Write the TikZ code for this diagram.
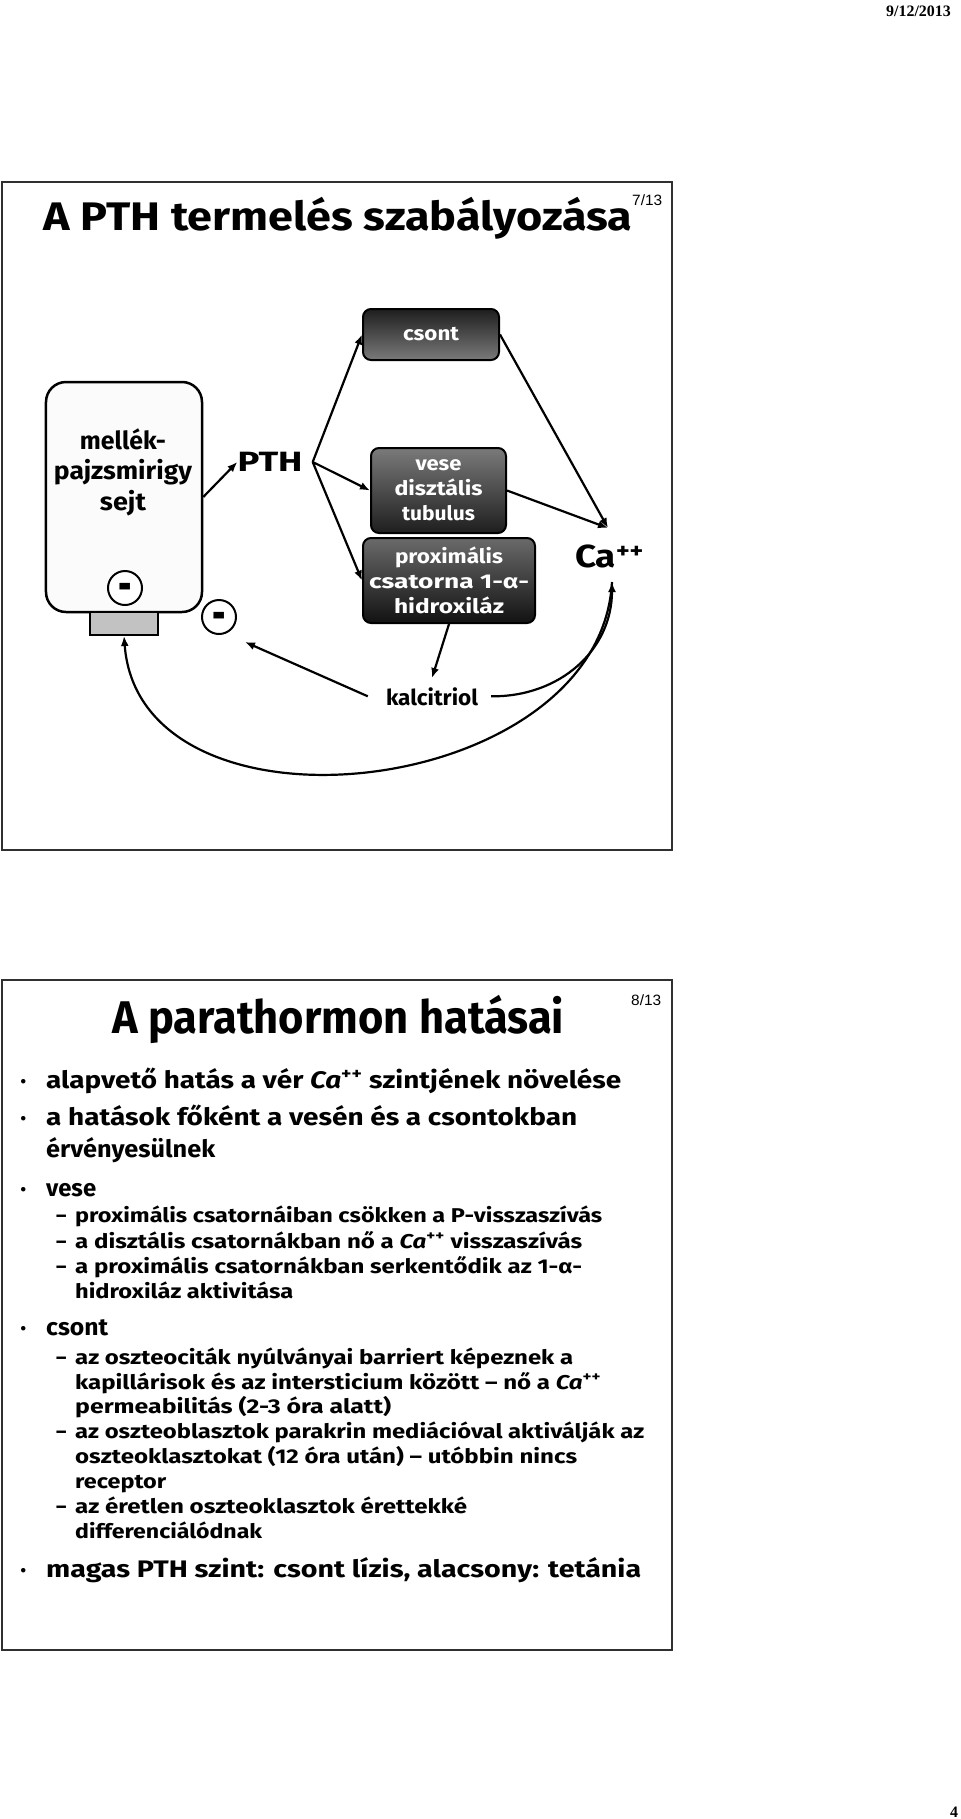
\documentclass[tikz,border=0pt]{standalone}
\usepackage{fontspec}
\setmainfont{Fira Sans}
\newfontfamily\serifhdr{Liberation Serif}
\newfontfamily\narrowf{Liberation Sans}
\usepackage{graphicx}
\usetikzlibrary{arrows.meta}
\definecolor{framec}{HTML}{303030}
\definecolor{gdark}{HTML}{1E1E1E}
\definecolor{gmid}{HTML}{7A7A7A}
\definecolor{gmid2}{HTML}{6A6A6A}
\definecolor{gblack}{HTML}{121212}
\definecolor{cellfill}{HTML}{FBFBFB}
\definecolor{recfill}{HTML}{C2C2C2}
\newlength\fitlen
\newcommand\fitw[2]{\settowidth{\fitlen}{#2}\pgfmathsetmacro\fitfac{#1/\fitlen}\scalebox{\fitfac}[1]{#2}}
\tikzset{
 arr/.style={line width=2.2bp, -{Latex[length=10bp,width=8bp]}},
 gbox/.style={draw=black, line width=2bp, rounded corners=8bp, text=white, font=\fontsize{20}{25}\selectfont\bfseries, align=center, inner sep=0},
 lbl/.style={inner sep=0, text=black},
 body/.style={anchor=base west, inner sep=0, font=\fontsize{24}{29}\selectfont\bfseries},
 subl/.style={anchor=base west, inner sep=0, font=\fontsize{20}{25}\selectfont\bfseries},
 bul/.style={anchor=base west, inner sep=0, font=\fontsize{20}{22}\selectfont},
 inhcirc/.style={shape=circle, draw=black, fill=white, line width=2bp, minimum size=34bp, inner sep=0pt, text height=0pt, text depth=0pt, font=\fontsize{30}{30}\selectfont\bfseries},
 frame/.style={draw=framec, line width=2bp},
 pnum/.style={anchor=base west, inner sep=0, font=\narrowf\fontsize{15}{16}\selectfont},
}
\begin{document}
\begin{tikzpicture}[x=1bp,y=-1bp]
\useasboundingbox (0,0) rectangle (960,1819);
\fill[white] (0,0) rectangle (960,1819);
% header / footer
\node[anchor=base, inner sep=0, font=\serifhdr\bfseries\fontsize{16}{18}\selectfont] (date) at (918.5,16) {9/12/2013};
\node[anchor=base, inner sep=0, font=\serifhdr\bfseries\fontsize{16}{18}\selectfont] (pg) at (954,1817) {4};

% ---------------- slide 1 ----------------
\draw[frame] (2,182) rectangle (672,850);
\node[anchor=base west, inner sep=0, font=\fontsize{40}{44}\selectfont\bfseries] (t1) at (43,230) {\fitw{589bp}{A PTH termelés szabályozása}};
\node[pnum] (p1) at (632,205) {\fitw{30bp}{7/13}};

\node[draw, line width=2.5bp, rounded corners=20bp, fill=cellfill, minimum width=156bp, minimum height=230bp, inner sep=0] (mell) at (124,497) {};
\node[draw, line width=2bp, fill=recfill, minimum width=68bp, minimum height=23bp, inner sep=0] (recep) at (124,623.5) {};
\node[lbl, align=center, font=\fontsize{25}{30.5}\selectfont\bfseries] (melltxt) at (123,472) {\fitw{86bp}{mellék-}\\\fitw{138bp}{pajzsmirigy}\\\fitw{46bp}{sejt}};
\node[inhcirc] (m1) at (125,588) {\raisebox{-15bp}{\scalebox{1.1}[1.8]{-}}};
\node[inhcirc] (m2) at (219,617) {\raisebox{-15bp}{\scalebox{1.1}[1.8]{-}}};

\node[lbl, font=\fontsize{28}{30}\selectfont\bfseries] (pth) at (270,462) {\fitw{65bp}{PTH}};

\node[gbox, top color=gdark, bottom color=gmid, minimum width=136bp, minimum height=51bp] (csont) at (431,334.5) {\fitw{56bp}{csont}};
\node[gbox, top color=gmid, bottom color=gdark, minimum width=135bp, minimum height=85bp] (vese) at (438.5,490.5) {\fitw{46bp}{vese}\\\fitw{88bp}{disztális}\\\fitw{73bp}{tubulus}};
\node[gbox, top color=gmid2, bottom color=gblack, minimum width=172bp, minimum height=85bp] (prox) at (449,580.5) {\fitw{108bp}{proximális}\\\fitw{160bp}{csatorna 1-α-}\\\fitw{110bp}{hidroxiláz}};

\node[lbl, anchor=base, font=\fontsize{32}{34}\selectfont\bfseries] (ca) at (609.5,567) {\fitw{69bp}{Ca\textsuperscript{++}}};
\coordinate (catop) at (608,528);
\coordinate (cabot) at (612,582);

\node[lbl, anchor=base, font=\fontsize{22}{24}\selectfont\bfseries] (kalc) at (432,705) {\fitw{92bp}{kalcitriol}};
\coordinate (inhib) at (245,642);

\draw[arr] (mell.east) -- (pth.west);
\draw[arr] ([xshift=10bp]pth.east) -- (csont.west);
\draw[arr] ([xshift=10bp]pth.east) -- (vese.west);
\draw[arr] ([xshift=10bp]pth.east) -- (prox.west);
\draw[arr] (csont.east) -- (catop);
\draw[arr] (vese.east) -- (catop);
\draw[arr] (prox.south) -- ([yshift=9bp]kalc.north);
\draw[arr] ([xshift=-18bp]kalc.west) -- (inhib);
\draw[arr] ([xshift=13bp]kalc.east) .. controls (560,697) and (612,650) .. (cabot);
\draw[arr] (cabot) .. controls (600,800) and (140,850) .. (recep.south);

% ---------------- slide 2 ----------------
\draw[frame] (2,980) rectangle (672,1650);
\node[anchor=base west, inner sep=0, font=\fontsize{46}{50}\selectfont\bfseries] (t2) at (112,1033) {\fitw{452bp}{A parathormon hatásai}};
\node[pnum] (p2) at (631,1005) {\fitw{30bp}{8/13}};

\node[bul] (d1) at (20,1088) {•};
\node[body] (b1) at (46,1088) {\fitw{575bp}{alapvető hatás a vér \textit{Ca}\textsuperscript{++} szintjének növelése}};
\node[bul] (d2) at (20,1125) {•};
\node[body] (b2) at (46,1125) {\fitw{531bp}{a hatások főként a vesén és a csontokban}};
\node[body] (b2b) at (46,1157) {\fitw{169bp}{érvényesülnek}};
\node[bul] (d3) at (20,1196) {•};
\node[body] (b3) at (46,1196) {\fitw{50bp}{vese}};

\node[subl] (e1) at (56,1222) {–};
\node[subl] (s1) at (75,1222) {\fitw{527bp}{proximális csatornáiban csökken a P-visszaszívás}};
\node[subl] (e2) at (56,1248) {–};
\node[subl] (s2) at (75,1248) {\fitw{507bp}{a disztális csatornákban nő a \textit{Ca}\textsuperscript{++} visszaszívás}};
\node[subl] (e3) at (56,1273) {–};
\node[subl] (s3) at (75,1273) {\fitw{507bp}{a proximális csatornákban serkentődik az 1-α-}};
\node[subl] (s3b) at (75,1298) {\fitw{218bp}{hidroxiláz aktivitása}};

\node[bul] (d4) at (20,1335) {•};
\node[body] (b4) at (46,1335) {\fitw{62bp}{csont}};

\node[subl] (e4) at (56,1364) {–};
\node[subl] (s4) at (75,1364) {\fitw{498bp}{az oszteociták nyúlványai barriert képeznek a}};
\node[subl] (s4b) at (75,1389) {\fitw{526bp}{kapillárisok és az intersticium között – nő a \textit{Ca}\textsuperscript{++}}};
\node[subl] (s4c) at (75,1413) {\fitw{316bp}{permeabilitás (2-3 óra alatt)}};
\node[subl] (e5) at (56,1438) {–};
\node[subl] (s5) at (75,1438) {\fitw{569bp}{az oszteoblasztok parakrin mediációval aktiválják az}};
\node[subl] (s5b) at (75,1463) {\fitw{502bp}{oszteoklasztokat (12 óra után) – utóbbin nincs}};
\node[subl] (s5c) at (75,1488) {\fitw{91bp}{receptor}};
\node[subl] (e6) at (56,1513) {–};
\node[subl] (s6) at (75,1513) {\fitw{392bp}{az éretlen oszteoklasztok érettekké}};
\node[subl] (s6b) at (75,1538) {\fitw{187bp}{differenciálódnak}};

\node[bul] (d5) at (20,1577) {•};
\node[body] (b5) at (46,1577) {\fitw{595bp}{magas PTH szint: csont lízis, alacsony: tetánia}};
\end{tikzpicture}
\end{document}
